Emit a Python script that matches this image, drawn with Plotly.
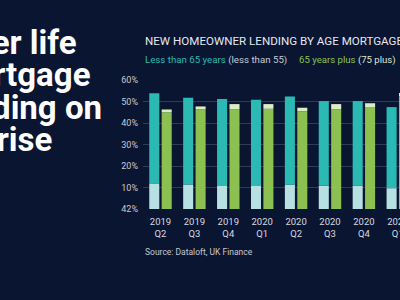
import plotly.graph_objects as go

# ---- data ----
quarters = ["2019<br>Q2", "2019<br>Q3", "2019<br>Q4", "2020<br>Q1", "2020<br>Q2",
            "2020<br>Q3", "2020<br>Q4", "2021<br>Q1"]
under65 = [53.8, 51.7, 51.2, 50.8, 52.3, 50.2, 50.2, 47.4]
under55 = [11.9, 11.4, 11.0, 11.0, 11.3, 10.8, 10.8, 9.7]
over65 = [46.3, 47.7, 48.8, 48.8, 47.1, 48.8, 49.2, 54.0]
over75 = [1.3, 1.3, 2.4, 2.2, 1.7, 2.4, 2.0, 1.5]
ytick_vals = [0, 10, 20, 30, 40, 50, 60]
ytick_text = ["42%", "10%", "20%", "30%", "40%", "50%", "60%"]

BG = "#0a1532"
TEAL = "#2bbab3"
TEAL_L = "#b6e0e1"
GREEN = "#8cc152"
GREEN_L = "#dcecc4"
FONT = "Roboto"

W, H = 400, 300
L, R, T, B = 143, 0, 80, 91
PW, PH = W - L - R, H - T - B


def px(x):
    return (x - L) / PW


def py(y):
    return (H - B - y) / PH


teal_top = [a - b for a, b in zip(under65, under55)]
green_main = [a - b for a, b in zip(over65, over75)]

fig = go.Figure()
fig.add_bar(x=quarters, y=under55, base=0, offsetgroup="a", marker_color=TEAL_L,
            marker_line_width=0, showlegend=False)
fig.add_bar(x=quarters, y=teal_top, base=under55, offsetgroup="a", marker_color=TEAL,
            marker_line_width=0, showlegend=False)
fig.add_bar(x=quarters, y=green_main, base=0, offsetgroup="b", marker_color=GREEN,
            marker_line_width=0, showlegend=False)
fig.add_bar(x=quarters, y=over75, base=green_main, offsetgroup="b", marker_color=GREEN_L,
            marker_line_width=0, showlegend=False)

anns = []
# big headline (cropped on the left); each line anchored by its right end
big_lines = ["Later life", "mortgage", "lending on", "the rise"]
big_right = [78, 91, 103, 53]
big_centers = [43, 75, 107, 139]
for t, xr, yc in zip(big_lines, big_right, big_centers):
    anns.append(dict(text=t, x=px(xr), y=py(yc), xref="paper", yref="paper",
                     xanchor="right", yanchor="middle", showarrow=False, borderpad=0,
                     font=dict(family=FONT, size=33, color="#ffffff", weight="bold")))
anns.append(dict(text="NEW HOMEOWNER LENDING BY AGE MORTGAGE", x=px(144), y=py(41),
                 xref="paper", yref="paper", xanchor="left", yanchor="middle",
                 showarrow=False, borderpad=0,
                 font=dict(family=FONT, size=11.6, color="#e4e8ee")))
anns.append(dict(text=f"<span style='color:{TEAL}'>Less than 65 years</span> "
                      f"<span style='color:#c3cdd8'>(less than 55)</span>",
                 x=px(144), y=py(60), xref="paper", yref="paper", xanchor="left",
                 yanchor="middle", showarrow=False, borderpad=0,
                 font=dict(family=FONT, size=9.7, color="#c3cdd8")))
anns.append(dict(text=f"<span style='color:{GREEN}'>65 years plus</span> "
                      f"<span style='color:#dde6d2'>(75 plus)</span>",
                 x=px(298), y=py(60), xref="paper", yref="paper", xanchor="left",
                 yanchor="middle", showarrow=False, borderpad=0,
                 font=dict(family=FONT, size=9.6, color="#dde6d2")))
anns.append(dict(text="Source: Dataloft, UK Finance", x=px(144), y=py(252),
                 xref="paper", yref="paper", xanchor="left", yanchor="middle",
                 showarrow=False, borderpad=0,
                 font=dict(family=FONT, size=8.5, color="#c3c9d3")))

fig.update_layout(
    width=W, height=H,
    margin=dict(l=L, r=R, t=T, b=B, pad=0, autoexpand=False),
    paper_bgcolor=BG, plot_bgcolor=BG,
    barmode="group", bargap=0.268, bargroupgap=0.19,
    font=dict(family=FONT, size=9.5, color="#cfd4dc"),
    annotations=anns,
    showlegend=False,
)
fig.update_xaxes(range=[-0.516, 7.065], showgrid=False, zeroline=False, showline=False,
                 ticks="", automargin=False, ticklabelstandoff=5,
                 tickfont=dict(family=FONT, size=9.5, color="#d6dae1"),
                 fixedrange=True)
fig.update_yaxes(range=[0, 60], tickvals=ytick_vals, ticktext=ytick_text,
                 showgrid=True, gridcolor="#2f3b57", gridwidth=1, zeroline=False,
                 showline=False, ticks="", ticklabelstandoff=4, automargin=False,
                 tickfont=dict(family=FONT, size=9, color="#c6cbd4"), fixedrange=True)

fig.write_html("out.html")
